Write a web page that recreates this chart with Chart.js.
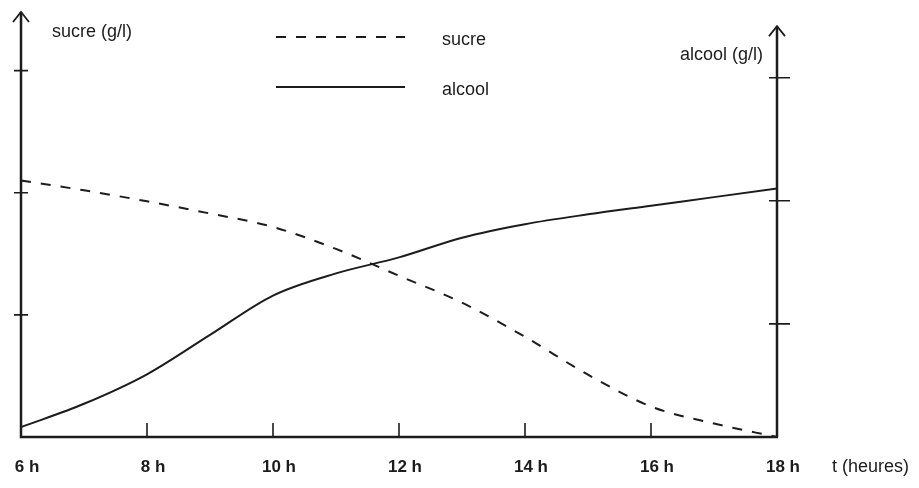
<!DOCTYPE html>
<html>
<head>
<meta charset="utf-8">
<script src="https://cdn.jsdelivr.net/npm/chart.js@4.4.0/dist/chart.umd.min.js"></script>
<style>
  html, body { margin: 0; padding: 0; background: #fff; }
  canvas { display: block; }
</style>
</head>
<body>
<canvas id="chart" width="919" height="488"></canvas>
<script>
// heures et concentrations (g/l)
const hours = [6, 7, 8, 9, 10, 11, 12, 13, 14, 15, 16, 17, 18];
const sucre = [2.10, 2.02, 1.93, 1.83, 1.72, 1.54, 1.32, 1.10, 0.82, 0.51, 0.25, 0.11, 0.0];
const alcool = [0.16, 0.35, 0.59, 0.91, 1.23, 1.41, 1.54, 1.70, 1.81, 1.89, 1.96, 2.03, 2.10];
const xTicks = [6, 8, 10, 12, 14, 16, 18];
const yTicks = [1, 2, 3];

const ink = '#1c1c1c';
const font = '"Liberation Sans", Arial, sans-serif';

const axesPlugin = {
    id: 'axes',
    afterDatasetsDraw(chart) {
        const ctx = chart.ctx;
        const x = chart.scales.x, y = chart.scales.y, y1 = chart.scales.y1;
        const x0 = x.getPixelForValue(6), x1 = x.getPixelForValue(18);
        const yb = y.getPixelForValue(0);
        const yTopL = y.getPixelForValue(3.48);
        const yTopR = y1.getPixelForValue(3.42);

        ctx.save();
        ctx.strokeStyle = ink;
        ctx.lineWidth = 2.5;
        ctx.lineCap = 'butt';
        ctx.beginPath();
        ctx.moveTo(x0, yTopL); ctx.lineTo(x0, yb); ctx.lineTo(x1 + 1, yb);
        ctx.moveTo(x1, yTopR); ctx.lineTo(x1, yb);
        ctx.stroke();

        // fleches
        ctx.lineWidth = 1.8;
        ctx.beginPath();
        ctx.moveTo(x0 - 8, yTopL + 10); ctx.lineTo(x0, yTopL); ctx.lineTo(x0 + 8, yTopL + 10);
        ctx.moveTo(x1 - 8, yTopR + 10); ctx.lineTo(x1, yTopR); ctx.lineTo(x1 + 8, yTopR + 10);
        ctx.stroke();

        // graduations
        ctx.lineWidth = 1.6;
        ctx.beginPath();
        yTicks.forEach(v => {
            const py = y.getPixelForValue(v);
            ctx.moveTo(x0 - 7, py); ctx.lineTo(x0 + 7, py);
            const pr = y1.getPixelForValue(v);
            ctx.moveTo(x1 - 8, pr); ctx.lineTo(x1 + 13, pr);
        });
        xTicks.slice(1, -1).forEach(v => {
            const px = x.getPixelForValue(v);
            ctx.moveTo(px, yb); ctx.lineTo(px, yb - 14);
        });
        ctx.stroke();

        // titres
        ctx.fillStyle = ink;
        ctx.font = '18px ' + font;
        ctx.textBaseline = 'middle';
        ctx.textAlign = 'left';
        ctx.fillText('sucre (g/l)', x0 + 31, 32);
        ctx.textAlign = 'right';
        ctx.fillText('alcool (g/l)', x1 - 14, 55);
        ctx.textAlign = 'left';
        ctx.fillText('t (heures)', x1 + 55, 467);

        // legende
        chart.data.datasets.forEach((ds, i) => {
            const ly = 37 + i * 50;
            ctx.strokeStyle = ds.borderColor;
            ctx.lineWidth = ds.borderWidth;
            ctx.setLineDash(ds.borderDash || []);
            ctx.beginPath();
            ctx.moveTo(276, ly); ctx.lineTo(405, ly);
            ctx.stroke();
            ctx.setLineDash([]);
            ctx.fillText(ds.label, 442, ly + 3);
        });
        ctx.restore();
    }
};

new Chart(document.getElementById('chart').getContext('2d'), {
    type: 'line',
    data: {
        labels: hours,
        datasets: [{
            label: 'sucre',
            data: hours.map((h, i) => ({ x: h, y: sucre[i] })),
            yAxisID: 'y',
            borderColor: ink,
            borderWidth: 2,
            borderDash: [10, 10],
            pointRadius: 0,
            cubicInterpolationMode: 'monotone',
            clip: false
        }, {
            label: 'alcool',
            data: hours.map((h, i) => ({ x: h, y: alcool[i] })),
            yAxisID: 'y1',
            borderColor: ink,
            borderWidth: 2,
            pointRadius: 0,
            cubicInterpolationMode: 'monotone',
            clip: false
        }]
    },
    options: {
        responsive: false,
        animation: false,
        devicePixelRatio: 1,
        layout: { padding: { left: 21, right: 142, top: 12, bottom: 11 } },
        plugins: { legend: { display: false }, tooltip: { enabled: false } },
        scales: {
            x: {
                type: 'linear',
                min: 6,
                max: 18,
                afterBuildTicks: axis => { axis.ticks = xTicks.map(v => ({ value: v })); },
                afterFit: axis => {
                    axis.height = 40;
                    axis.paddingLeft = 0;
                    axis.paddingRight = 0;
                },
                grid: { display: false, drawTicks: false },
                border: { display: false },
                ticks: {
                    color: ink,
                    padding: 20,
                    labelOffset: 6,
                    maxRotation: 0,
                    autoSkip: false,
                    font: { family: font, size: 17, weight: 'bold' },
                    callback: v => v + ' h'
                }
            },
            y: { min: 0, max: 3.48, display: false },
            y1: { min: 0.08, max: 3.535, display: false, position: 'right' }
        }
    },
    plugins: [axesPlugin]
});
</script>
</body>
</html>
